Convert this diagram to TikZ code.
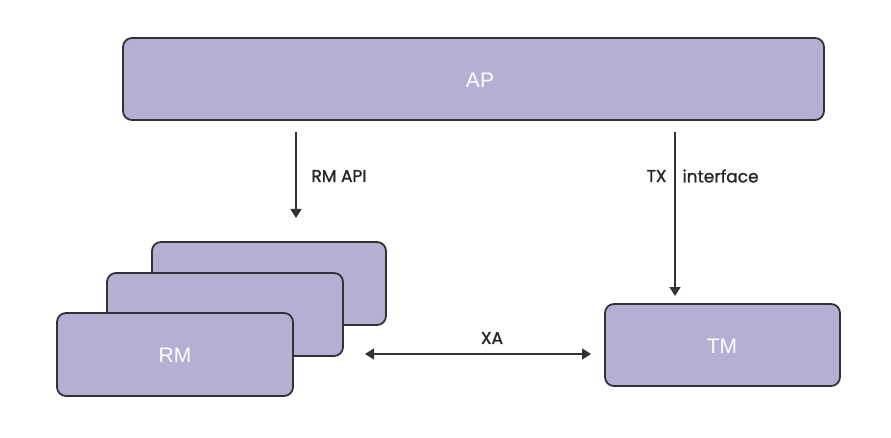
\documentclass[tikz,border=0pt]{standalone}
\usepackage{fontspec}
\setmainfont{Liberation Sans}
\newfontfamily\labfont[FakeBold=1.2]{Poppins}
\usetikzlibrary{arrows.meta}
\definecolor{boxfill}{HTML}{B7AED4}
\definecolor{edge}{HTML}{333333}
\tikzset{
  box/.style={draw=edge, fill=boxfill, line width=1.8pt, rounded corners=9pt, inner sep=0pt},
  boxtext/.style={text=white, font=\fontsize{21}{24}\selectfont},
  conn/.style={draw=edge, line width=1.5pt, -{Triangle[length=9pt,width=11pt]}},
  lab/.style={text=black!85, font=\labfont\fontsize{17}{20}\selectfont}
}
\begin{document}
\begin{tikzpicture}[x=1pt,y=-1pt]
\useasboundingbox (0,0) rectangle (891,438);
\fill[white] (0,0) rectangle (891,438);
% AP
\draw[box] (123,38) rectangle (824,120);
\node[boxtext] (ap) at (480,80) {AP};
% RM stack
\draw[box] (152,242) rectangle (386,325);
\draw[box] (107,273) rectangle (343,356);
\draw[box] (57,313) rectangle (293,396);
\node[boxtext] (rm) at (175,355) {RM};
% TM
\draw[box] (605,304) rectangle (840,386);
\node[boxtext] (tm) at (722,346) {TM};
% coordinates
\coordinate (a1) at (296,132);
\coordinate (a2) at (296,218);
\coordinate (b1) at (675,132);
\coordinate (b2) at (675,296);
\coordinate (c1) at (365,354);
\coordinate (c2) at (591,354);
\draw[conn] (a1) -- (a2);
\draw[conn] (b1) -- (b2);
\draw[conn, {Triangle[length=9pt,width=11pt]}-{Triangle[length=9pt,width=11pt]}] (c1) -- (c2);
\node[lab, anchor=west] (rmapi) at (308,176) {RM API};
\node[lab, anchor=east] (tx) at (670,176) {TX};
\node[lab, anchor=west] (intf) at (679,176) {interface};
\node[lab] (xa) at (492,338) {XA};
\end{tikzpicture}
\end{document}
